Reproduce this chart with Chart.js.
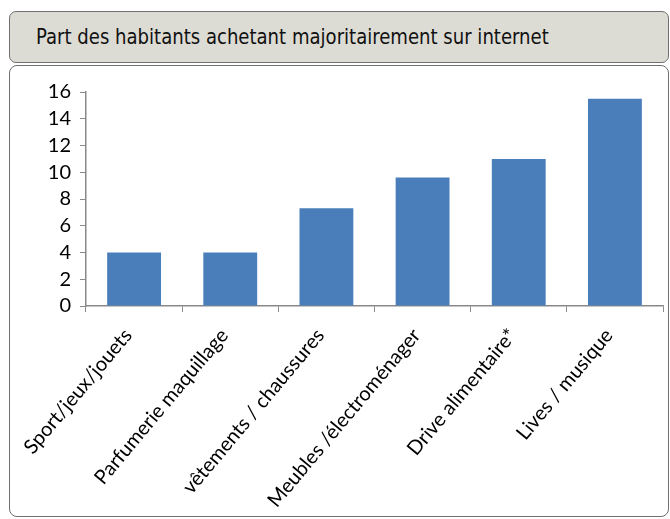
<!DOCTYPE html>
<html>
<head>
<meta charset="utf-8">
<script src="https://cdn.jsdelivr.net/npm/chart.js@4/dist/chart.umd.min.js"></script>
<style>
  html, body { margin: 0; padding: 0; background: #fff; }
  #page { position: relative; width: 670px; height: 519px; overflow: hidden; }
  #entete {
    position: absolute; left: 9px; top: 11px; width: 658px; height: 50px;
    background: #dddcd4; border: 1.5px solid #707070; border-radius: 7px;
  }
  #titre {
    position: absolute; left: 26px; top: 12px;
    font-family: "Liberation Sans Narrow", "DejaVu Sans Condensed", sans-serif;
    font-size: 22px; color: #111; white-space: nowrap; transform-origin: 0 0;
  }
  #cadre {
    position: absolute; left: 9px; top: 65px; width: 658px; height: 450px;
    border: 1.5px solid #707070; border-radius: 8px; background: #fff;
  }
  #chartGeral { position: absolute; left: 0; top: 0; }
</style>
</head>
<body>
<div id="page">
  <div id="entete"><div id="titre">Part des habitants achetant majoritairement sur internet</div></div>
  <div id="cadre"></div>
  <canvas id="chartGeral" width="670" height="519"></canvas>
</div>
<script>
// catégories et valeurs (%)
var categories = ['Sport/jeux/jouets', 'Parfumerie maquillage', 'vêtements / chaussures',
  'Meubles /électroménager', 'Drive alimentaire*', 'Lives / musique']
var valeurs = [4, 4, 7.3, 9.6, 11, 15.5]
var ticksY = [0, 2, 4, 6, 8, 10, 12, 14, 16]

var corAxe = '#898989'

// titre un peu condensé pour tenir dans la largeur du bandeau
var titre = document.getElementById('titre')
titre.style.transform = 'scaleX(' + (513 / titre.offsetWidth) + ')'

let dados = {
  labels: categories,
  datasets: [{
    data: valeurs,
    backgroundColor: '#4a7ebb',
    borderWidth: 0,
    categoryPercentage: 0.56,
    barPercentage: 1
  }]
}

const config = {
  type: 'bar',
  data: dados,
  options: {
    responsive: false,
    animation: false,
    layout: { padding: { top: 92, right: 7, bottom: 0, left: 0 } },
    plugins: { legend: { display: false }, tooltip: { enabled: false } },
    scales: {
      x: {
        grid: { offset: true, drawOnChartArea: false, drawTicks: true, tickLength: 6, color: corAxe, lineWidth: 1 },
        border: { display: true, color: corAxe, width: 1.5 },
        ticks: {
          minRotation: 50, maxRotation: 50, padding: 12, labelOffset: -6, color: '#000',
          autoSkip: false,
          font: { family: 'Lato', size: 20 }
        },
        afterFit: function (scale) { scale.height = 213 }
      },
      y: {
        min: ticksY[0],
        max: ticksY[ticksY.length - 1],
        afterBuildTicks: function (scale) {
          scale.ticks = ticksY.map(function (v) { return { value: v } })
        },
        grid: { drawOnChartArea: false, drawTicks: true, tickLength: 6, color: corAxe, lineWidth: 1 },
        border: { display: true, color: corAxe, width: 1.5 },
        ticks: {
          padding: 9, color: '#000', autoSkip: false,
          font: { family: 'Lato', size: 20 }
        },
        afterFit: function (scale) { scale.width = 86 }
      }
    }
  }
}

let chartGeral = new Chart(document.getElementById('chartGeral'), config)
</script>
</body>
</html>
